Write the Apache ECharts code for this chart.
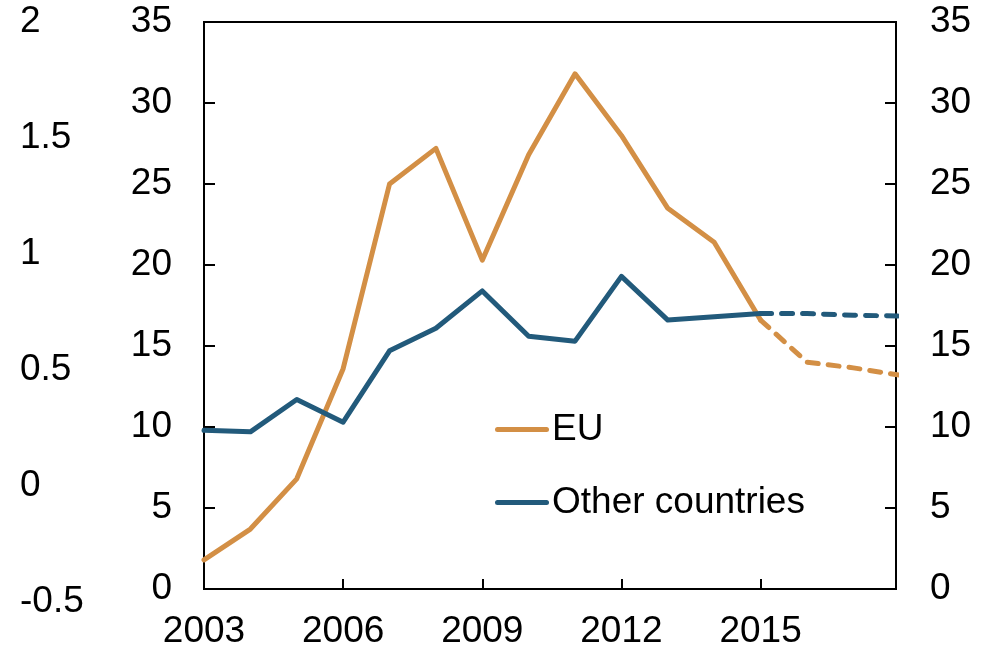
<!DOCTYPE html>
<html>
<head>
<meta charset="utf-8">
<script src="https://cdn.jsdelivr.net/npm/echarts@6/dist/echarts.min.js"></script>
<style>
html,body{margin:0;padding:0;background:#fff;}
#chart{width:986px;height:651px;}
</style>
</head>
<body>
<div id="chart"></div>
<script>
const years = [2003,2004,2005,2006,2007,2008,2009,2010,2011,2012,2013,2014,2015,2016,2017,2018];
const euValues = [1.8,3.7,6.8,13.6,25.0,27.2,20.3,26.8,31.8,28.0,23.5,21.4,16.6,14.0,13.65,13.2];
const otherValues = [9.8,9.7,11.7,10.3,14.7,16.1,18.4,15.6,15.3,19.3,16.6,16.8,17.0,17.0,16.9,16.85];
const forecastStart = 2015;
const seriesNames = ['EU','Other countries'];
const leftTicks = [0,5,10,15,20,25,30,35];
const farLeftTicks = [-0.5,0,0.5,1,1.5,2];

const FONT = 'Liberation Sans, Arial, sans-serif';
const ORANGE = '#D38F45';
const BLUE = '#225A7B';

function pairs(vals, part) {
  const out = [];
  years.forEach((y, i) => {
    if (part === 'solid' && y <= forecastStart) out.push([y, vals[i]]);
    if (part === 'dash' && y >= forecastStart) out.push([y, vals[i]]);
  });
  return out;
}

const chart = echarts.init(document.getElementById('chart'));
const axisLbl = {color:'#000', fontSize:37, fontFamily:FONT};
const lineSer = (name, vals, part, color) => ({
  name: name,
  type: 'line',
  xAxisIndex: 0, yAxisIndex: 0,
  data: pairs(vals, part),
  symbol: 'none',
  silent: true,
  clip: true,
  lineStyle: {color: color, width: 5, type: part === 'dash' ? [11, 10] : 'solid', cap: 'round', join: 'round'},
  itemStyle: {color: color},
  z: part === 'dash' ? 2 : 3
});

chart.setOption({
  animation: false,
  grid: [
    {left: 204, right: 90, top: 22, bottom: 62, show: true, borderColor: '#000', borderWidth: 2, backgroundColor: 'transparent'},
    {left: 204, right: 90, top: 22, bottom: 49, show: false}
  ],
  legend: {
    data: seriesNames,
    orient: 'vertical',
    left: 490, top: 406,
    itemWidth: 54, itemHeight: 20,
    itemGap: 36,
    icon: 'path://M2.5,0 L51.5,0 A2.5,2.5 0 0 1 51.5,5 L2.5,5 A2.5,2.5 0 0 1 2.5,0 Z',
    textStyle: {color:'#000', fontSize:37, fontFamily:FONT, padding:[0,0,0,-2]},
    selectedMode: false
  },
  xAxis: [
    {type:'value', gridIndex:0, min: years[0], max: 2017.92, interval: 3,
     axisLine:{show:true, lineStyle:{color:'#000', width:2}},
     axisTick:{show:true, inside:true, length:10, lineStyle:{color:'#000', width:2}},
     splitLine:{show:false},
     axisLabel:Object.assign({margin:24, showMaxLabel:false,
       formatter: v => (Number.isInteger(v) && (v - years[0]) % 3 === 0) ? String(v) : ''}, axisLbl)},
    {type:'value', gridIndex:1, min:0, max:1, show:false}
  ],
  yAxis: [
    {type:'value', gridIndex:0, position:'left', min: leftTicks[0], max: leftTicks[leftTicks.length-1], interval: 5,
     axisLine:{show:true, lineStyle:{color:'#000', width:2}},
     axisTick:{show:true, inside:true, length:11, lineStyle:{color:'#000', width:2}},
     splitLine:{show:false},
     axisLabel:Object.assign({margin:32}, axisLbl)},
    {type:'value', gridIndex:0, position:'right', min: leftTicks[0], max: leftTicks[leftTicks.length-1], interval: 5,
     axisLine:{show:true, lineStyle:{color:'#000', width:2}},
     axisTick:{show:true, inside:true, length:11, lineStyle:{color:'#000', width:2}},
     splitLine:{show:false},
     axisLabel:Object.assign({margin:34}, axisLbl)},
    {type:'value', gridIndex:1, position:'left', offset:184, min: farLeftTicks[0], max: farLeftTicks[farLeftTicks.length-1], interval: 0.5,
     axisLine:{show:false}, axisTick:{show:false}, splitLine:{show:false},
     axisLabel:Object.assign({margin:0, align:'left'}, axisLbl)}
  ],
  series: [
    lineSer('EU', euValues, 'solid', ORANGE),
    lineSer('Other countries', otherValues, 'solid', BLUE),
    lineSer('EU forecast', euValues, 'dash', ORANGE),
    lineSer('Other forecast', otherValues, 'dash', BLUE)
  ]
});
</script>
</body>
</html>
